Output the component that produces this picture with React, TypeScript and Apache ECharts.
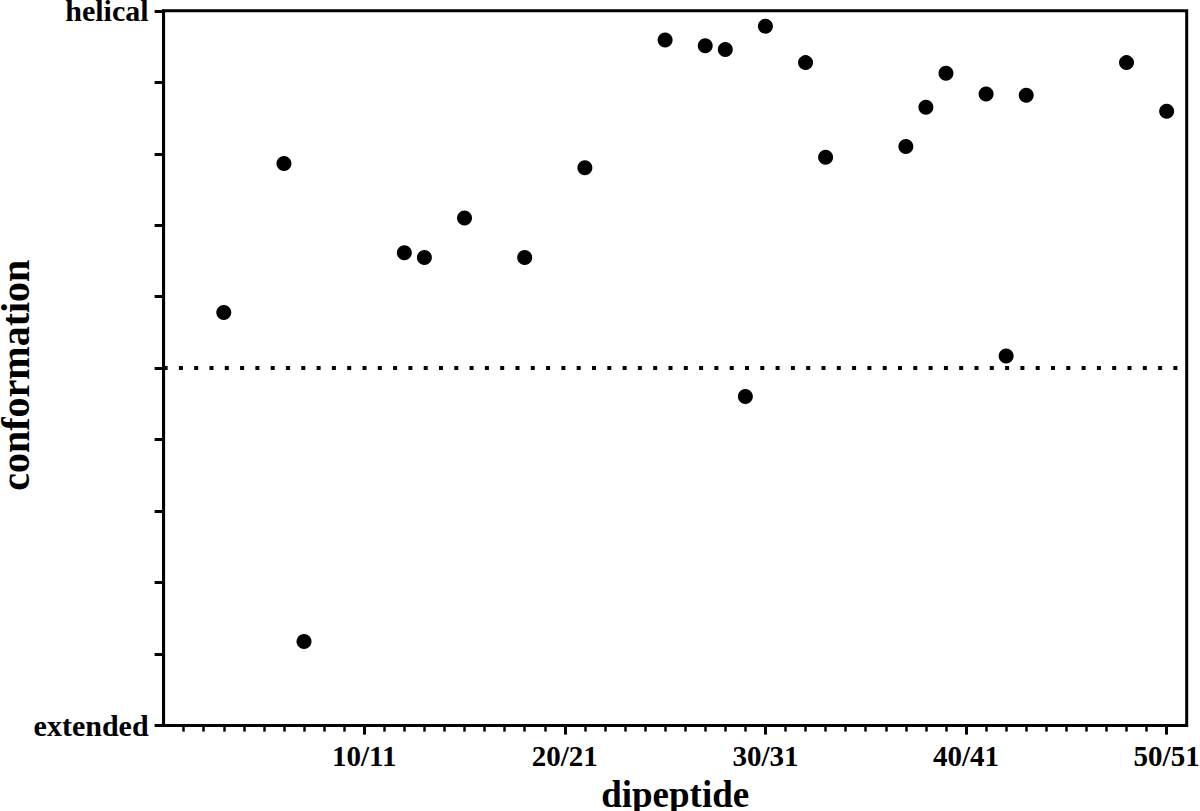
import React, { useEffect, useRef } from "react";
import * as echarts from "echarts";

// dipeptide index n stands for the pair "n/n+1"
const dipeptideIndex = [3, 6, 7, 12, 13, 15, 18, 21, 25, 27, 28, 29, 30, 32, 33, 37, 38, 39, 41, 42, 43, 48, 50];
// conformation: +1 = helical, -1 = extended
const conformationValue = [
  0.156, 0.573, -0.765, 0.323, 0.31, 0.42, 0.31, 0.561, 0.918, 0.902, 0.892, -0.079, 0.957, 0.855, 0.59, 0.62,
  0.73, 0.825, 0.767, 0.034, 0.764, 0.855, 0.719,
];
const majorXTicks = [10, 20, 30, 40, 50];
const minorXTicks = [
  1, 2, 3, 4, 5, 6, 7, 8, 9, 11, 12, 13, 14, 15, 16, 17, 18, 19, 21, 22, 23, 24, 25, 26, 27, 28, 29, 31, 32, 33, 34,
  35, 36, 37, 38, 39, 41, 42, 43, 44, 45, 46, 47, 48, 49,
];
const yTopLabel = "helical";
const yBottomLabel = "extended";
const xAxisTitle = "dipeptide";
const yAxisTitle = "conformation";
const thresholdValue = 0;

const FONT = "Liberation Serif";

export default function App() {
  const ref = useRef<HTMLDivElement>(null);
  useEffect(() => {
    if (!ref.current) return;
    const chart = echarts.init(ref.current, undefined, { renderer: "svg" });
    const points = dipeptideIndex.map((x, i) => [x, conformationValue[i]]);
    chart.setOption({
      animation: false,
      backgroundColor: "#fff",
      grid: {
        left: 163.6,
        right: 13.3,
        top: 10.8,
        bottom: 85.4,
        outerBoundsMode: "none",
        containLabel: false,
        show: true,
        borderColor: "#000",
        borderWidth: 3,
      },
      xAxis: [
        {
          type: "value",
          min: 0,
          max: 51,
          interval: 10,
          position: "bottom",
          splitLine: { show: false },
          axisLine: { show: true, onZero: false, lineStyle: { color: "#000", width: 3 } },
          axisTick: {
            show: true,
            customValues: minorXTicks,
            length: 6,
            lineStyle: { color: "#000", width: 2.5 },
          },
          axisLabel: {
            customValues: majorXTicks,
            formatter: (v: number) => `${v}/${v + 1}`,
            fontFamily: FONT,
            fontWeight: "bold",
            fontSize: 29,
            color: "#000",
            margin: 16,
          },
          name: xAxisTitle,
          nameLocation: "middle",
          nameGap: 50,
          nameMoveOverlap: false,
          nameTextStyle: { fontFamily: FONT, fontWeight: "bold", fontSize: 37, color: "#000" },
        },
        {
          type: "value",
          min: 0,
          max: 51,
          interval: 10,
          position: "bottom",
          splitLine: { show: false },
          axisLine: { show: false, onZero: false },
          axisTick: {
            show: true,
            customValues: majorXTicks,
            length: 9,
            lineStyle: { color: "#000", width: 3 },
          },
          axisLabel: { show: false },
        },
      ],
      yAxis: {
        type: "value",
        min: -1,
        max: 1,
        interval: 0.2,
        splitLine: { show: false },
        axisLine: { show: true, onZero: false, lineStyle: { color: "#000", width: 3 } },
        axisTick: { show: true, length: 9, lineStyle: { color: "#000", width: 3 } },
        axisLabel: {
          formatter: (v: number) => (v >= 0.999 ? yTopLabel : v <= -0.999 ? yBottomLabel : ""),
          fontFamily: FONT,
          fontWeight: "bold",
          fontSize: 30,
          color: "#000",
          margin: 15,
        },
        name: yAxisTitle,
        nameLocation: "middle",
        nameGap: 128,
        nameMoveOverlap: false,
        nameTextStyle: {
          fontFamily: FONT,
          fontWeight: "bold",
          fontSize: 40,
          color: "#000",
          padding: [0, 14, 0, 0],
        },
      },
      series: [
        {
          type: "scatter",
          xAxisIndex: 0,
          data: points,
          symbol: "circle",
          symbolSize: 15,
          itemStyle: { color: "#000", opacity: 1 },
          markLine: {
            silent: true,
            symbol: ["none", "none"],
            label: { show: false },
            lineStyle: { color: "#000", width: 4, type: [4, 11.3], opacity: 1 },
            data: [{ yAxis: thresholdValue }],
          },
        },
      ],
    });
    return () => chart.dispose();
  }, []);
  return <div ref={ref} style={{ position: "absolute", left: 0, top: 0, width: 1200, height: 811 }} />;
}
